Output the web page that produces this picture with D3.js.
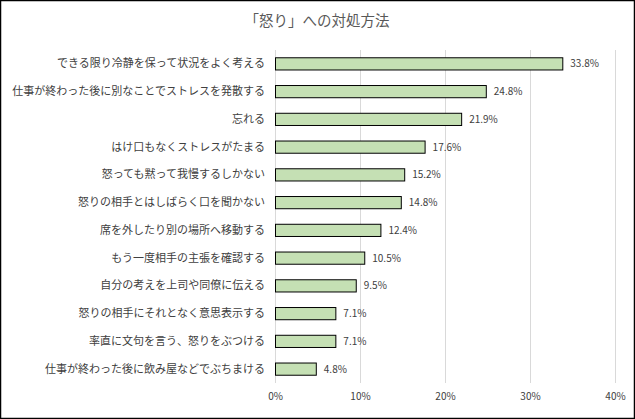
<!DOCTYPE html>
<html>
<head>
<meta charset="utf-8">
<script src="https://cdn.jsdelivr.net/npm/d3@7"></script>
<style>
  body { margin: 0; background: #fff; }
  svg text { font-family: "Noto Sans CJK JP", sans-serif; fill: #404040; }
</style>
</head>
<body>
<svg id="chart" width="635" height="419"></svg>
<script>
const categories = [
  "できる限り冷静を保って状況をよく考える",
  "仕事が終わった後に別なことでストレスを発散する",
  "忘れる",
  "はけ口もなくストレスがたまる",
  "怒っても黙って我慢するしかない",
  "怒りの相手とはしばらく口を聞かない",
  "席を外したり別の場所へ移動する",
  "もう一度相手の主張を確認する",
  "自分の考えを上司や同僚に伝える",
  "怒りの相手にそれとなく意思表示する",
  "率直に文句を言う、怒りをぶつける",
  "仕事が終わった後に飲み屋などでぶちまける"
];
const values = [33.8, 24.8, 21.9, 17.6, 15.2, 14.8, 12.4, 10.5, 9.5, 7.1, 7.1, 4.8];
const xTicks = [0, 10, 20, 30, 40];
const title = "「怒り」への対処方法";

const svg = d3.select("#chart");
const W = 635, H = 419;
const m = { left: 275, right: 20, top: 50, bottom: 36 };

// outer frame
svg.append("rect")
  .attr("x", 0.5).attr("y", 0.5)
  .attr("width", W - 1).attr("height", H - 1)
  .attr("fill", "#fff").attr("stroke", "#000").attr("stroke-width", 1.5);

svg.append("text")
  .attr("x", 317).attr("y", 26)
  .attr("text-anchor", "middle")
  .attr("font-size", 14.5)
  .style("fill", "#595959")
  .text(title);

const x = d3.scaleLinear().domain([0, 40]).range([m.left, W - m.right]);
const y = d3.scaleBand().domain(categories).range([m.top, H - m.bottom]).paddingInner(0.56).paddingOuter(0.28);

// gridlines
svg.append("g")
  .selectAll("line")
  .data(xTicks)
  .join("line")
  .attr("x1", d => x(d) + 0.5).attr("x2", d => x(d) + 0.5)
  .attr("y1", m.top).attr("y2", H - m.bottom)
  .attr("stroke", "#d9d9d9").attr("stroke-width", 1);

// x axis labels
const xAxis = svg.append("g")
  .attr("transform", `translate(0,${H - m.bottom})`)
  .call(d3.axisBottom(x).tickValues(xTicks).tickFormat(d => d + "%").tickSize(0).tickPadding(10));
xAxis.select(".domain").remove();
xAxis.selectAll("text").attr("font-size", 10).style("font-family", '"Noto Sans CJK JP", sans-serif').style("fill", "#404040");

// y axis labels
const yAxis = svg.append("g")
  .attr("transform", `translate(${m.left},0)`)
  .call(d3.axisLeft(y).tickSize(0).tickPadding(10));
yAxis.select(".domain").remove();
yAxis.selectAll("text").attr("font-size", 11).style("font-family", '"Noto Sans CJK JP", sans-serif').style("fill", "#404040");

// bars
svg.append("g")
  .selectAll("rect")
  .data(values)
  .join("rect")
  .attr("x", x(0) + 0.5)
  .attr("y", (d, i) => y(categories[i]))
  .attr("width", d => x(d) - x(0))
  .attr("height", y.bandwidth())
  .attr("fill", "#c5e0b4")
  .attr("stroke", "#000")
  .attr("stroke-width", 1);

// value labels
svg.append("g")
  .selectAll("text")
  .data(values)
  .join("text")
  .attr("x", d => x(d) + 8)
  .attr("y", (d, i) => y(categories[i]) + y.bandwidth() / 2)
  .attr("dy", "0.35em")
  .attr("font-size", 10)
  .text(d => d.toFixed(1) + "%");
</script>
</body>
</html>
